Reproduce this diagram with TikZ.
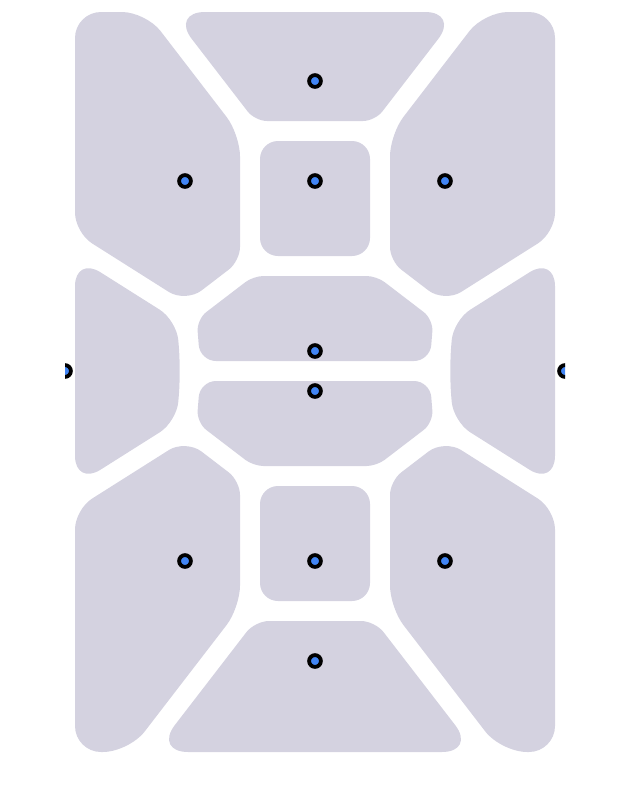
\documentclass[tikz,border=0pt]{standalone}
\usepackage{tikz}
\definecolor{cellgray}{RGB}{212,210,224}
\definecolor{siteblue}{RGB}{66,133,244}

\begin{document}
\begin{tikzpicture}[x=1pt,y=-1pt,
  cell/.style={fill=cellgray, rounded corners=20pt},
  rc/.style={rounded corners=#1},
  site/.style={circle, draw=black, line width=3.8pt, fill=siteblue, inner sep=0pt, minimum size=11.8pt}]

  \useasboundingbox (0,0) rectangle (636,804);

  \begin{scope}
  \clip (65,0) rectangle (565,804);

  % top band of cells (each path starts mid-edge, radius set just before its corner)
  \fill[cell] (315,12) [rc=34pt] -- (459,12) [rc=12pt] -- (375,121) [rc=12pt] -- (255,121) [rc=34pt] -- (171,12) -- cycle;
  \fill[cell] (75,120) [rc=26pt] -- (75,12) [rc=24pt] -- (145.9,12) [rc=22pt] -- (240,134.4) [rc=14pt] -- (240,261)
        [rc=20pt] -- (185.7,302.6) [rc=20pt] -- (75,232.6) -- cycle;
  \fill[cell, rc=18pt] (260,141) -- (370,141) -- (370,256) -- (260,256) -- cycle;
  \fill[cell] (555,120) [rc=26pt] -- (555,12) [rc=24pt] -- (484.1,12) [rc=22pt] -- (390,134.4) [rc=14pt] -- (390,261)
        [rc=20pt] -- (444.3,302.6) [rc=20pt] -- (555,232.6) -- cycle;

  % middle band
  \fill[cell] (75,371) [rc=30pt] -- (75,256.2) [rc=20pt] -- (176.7,320.4) [rc=24pt] -- (180.8,371)
        [rc=20pt] -- (176.7,421.6) [rc=30pt] -- (75,485.8) -- cycle;
  \fill[cell] (555,371) [rc=30pt] -- (555,256.2) [rc=20pt] -- (453.3,320.4) [rc=24pt] -- (449.2,371)
        [rc=20pt] -- (453.3,421.6) [rc=30pt] -- (555,485.8) -- cycle;
  \fill[cell] (315,276) [rc=10pt] -- (376.6,276) [rc=12pt] -- (433.3,319.4) [rc=16pt] -- (430,361)
        [rc=16pt] -- (200,361) [rc=12pt] -- (196.7,319.4) [rc=10pt] -- (253.4,276) -- cycle;
  \fill[cell] (315,466) [rc=10pt] -- (376.6,466) [rc=12pt] -- (433.3,422.6) [rc=16pt] -- (430,381)
        [rc=16pt] -- (200,381) [rc=12pt] -- (196.7,422.6) [rc=10pt] -- (253.4,466) -- cycle;

  % bottom band
  \fill[cell] (75,630) [rc=26pt] -- (75,752) [rc=26pt] -- (128.9,752) [rc=22pt] -- (240,607.6) [rc=14pt] -- (240,481)
        [rc=20pt] -- (185.7,439.4) [rc=20pt] -- (75,509.4) -- cycle;
  \fill[cell, rc=18pt] (260,486) -- (370,486) -- (370,601) -- (260,601) -- cycle;
  \fill[cell] (555,630) [rc=26pt] -- (555,752) [rc=26pt] -- (501.1,752) [rc=22pt] -- (390,607.6) [rc=14pt] -- (390,481)
        [rc=20pt] -- (444.3,439.4) [rc=20pt] -- (555,509.4) -- cycle;
  \fill[cell] (315,752) [rc=34pt] -- (475.9,752) [rc=14pt] -- (375,621) [rc=14pt] -- (255,621) [rc=34pt] -- (154.1,752) -- cycle;

  % sites
  \foreach \n/\x/\y in {A/315/81, B/185/181, C/315/181, D/445/181,
                        E/65/371, G/315/351, H/315/391, F/565/371,
                        I/185/561, J/315/561, K/445/561, L/315/661}{
    \node[site] (s\n) at (\x,\y) {};
  }
  \end{scope}

\end{tikzpicture}
\end{document}
